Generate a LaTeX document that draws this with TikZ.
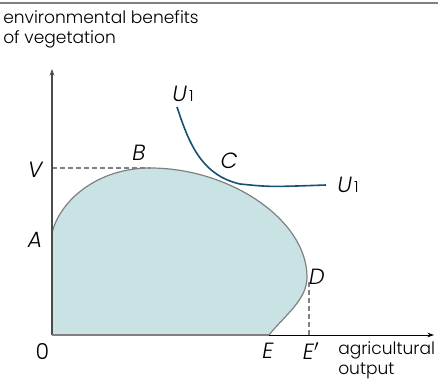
\documentclass[tikz,border=0pt]{standalone}
\usepackage{fontspec}
\setmainfont{Poppins Light}[ItalicFont={Poppins Light Italic}]
\usetikzlibrary{arrows.meta, positioning}
\definecolor{ppfill}{RGB}{201, 227, 229}
\definecolor{ppline}{RGB}{128, 128, 128}
\definecolor{utilblue}{RGB}{22, 82, 112}
\definecolor{axisgray}{RGB}{75, 75, 75}

\begin{document}
\begin{tikzpicture}[x=0.75pt, y=-0.75pt,
  pointlbl/.style={font=\fontsize{16.5}{18}\selectfont\itshape, inner sep=0pt},
  axistext/.style={font=\fontsize{12.8}{15}\selectfont, align=left, inner sep=0pt, anchor=north west},
  guide/.style={ppline, line width=0.9pt, dash pattern=on 4pt off 2pt}]
  \useasboundingbox (0,0) rectangle (438,384);
  \draw[ppline, line width=1.3pt] (0,3) -- (438,3);

  \coordinate (O) at (52,335);
  \coordinate (A) at (52,233);
  \coordinate (B) at (150,168);
  \coordinate (D) at (307,277);
  \coordinate (E) at (269,335);
  \coordinate (Ep) at (309,335);
  \coordinate (Vy) at (52,168);
  \coordinate (ytop) at (52,69);
  \coordinate (xend) at (434,335);

  % production possibility region
  \fill[ppfill] (O) -- (A) .. controls (60,200) and (98,168) .. (B)
    .. controls (230,168) and (307,220) .. (D)
    .. controls (307,300) and (285,315) .. (E) -- cycle;
  \draw[ppline, line width=0.9pt] (A) .. controls (60,200) and (98,168) .. (B)
    .. controls (230,168) and (307,220) .. (D)
    .. controls (307,300) and (285,315) .. (E);

  % indifference curve
  \coordinate (Utop) at (177,107);
  \coordinate (Uend) at (326,185);
  \draw[utilblue, line width=1.2pt] (Utop) .. controls (188,140) and (200,175) .. (240,184)
    .. controls (270,187) .. (Uend);

  \draw[guide] (Vy) -- (B);
  \draw[guide] (D) ++(2,5) coordinate (Dd) (Dd) -- (Ep);

  % axes
  \draw[axisgray, line width=1.4pt] (O) -- (A);
  \draw[axisgray, line width=0.8pt, -{Stealth[length=5pt, width=3.5pt]}] (A) -- (ytop);
  \draw[ppline, line width=1.4pt] (O) -- (E);
  \draw[black, line width=0.7pt, -{Stealth[length=5pt, width=3.5pt]}] (E) -- (xend);

  \node[axistext] (ylabel) at (3,10) {environmental benefits\\of vegetation};
  \node[axistext] (xlabel) at (338,341) {agricultural\\output};

  \node[pointlbl] (lblO) at (42.5,352) {\upshape 0};
  \node[pointlbl] (lblE) at (268,351) {E};
  \node[pointlbl] (lblEp) at (311,351) {E$'$};
  \node[pointlbl] (lblV) at (35,170) {V};
  \node[pointlbl] (lblA) at (35,240) {A};
  \node[pointlbl] (lblB) at (139,153) {B};
  \node[pointlbl] (lblC) at (229,161) {C};
  \node[pointlbl] (lblD) at (317,277) {D};
  \node[pointlbl] (lblU) at (183,94) {U\hspace{1.5pt}{\upshape\fontsize{11.5}{12}\selectfont 1}};
  \node[pointlbl] (lblUr) at (348,185) {U\hspace{1.5pt}{\upshape\fontsize{11.5}{12}\selectfont 1}};
\end{tikzpicture}
\end{document}
